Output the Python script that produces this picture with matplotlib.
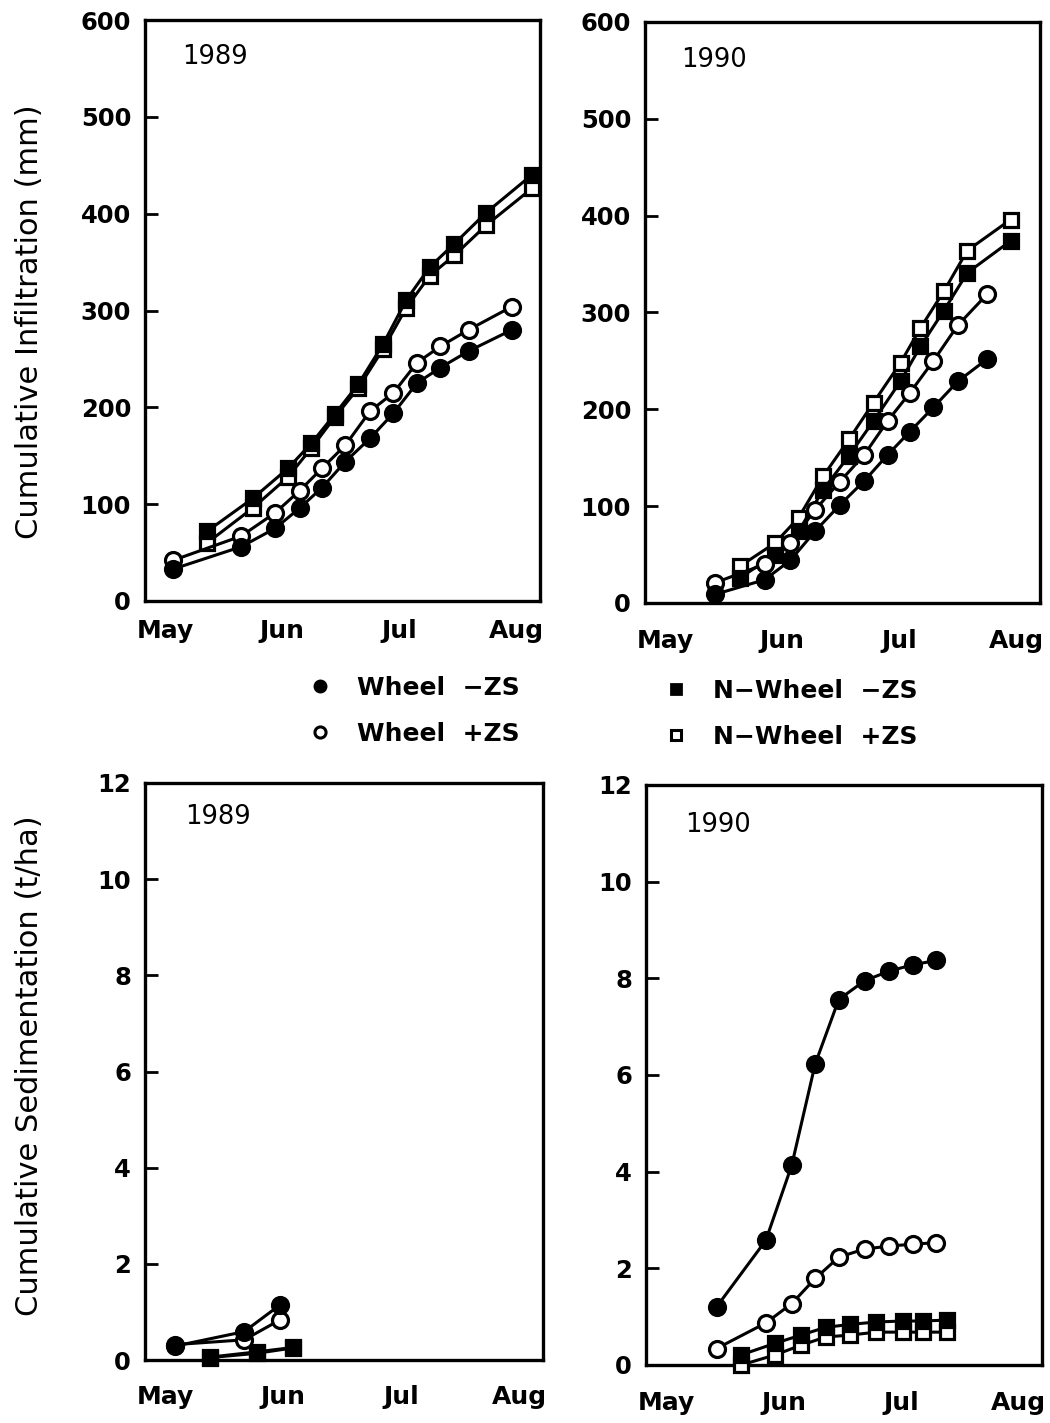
import matplotlib
matplotlib.use("Agg")
import matplotlib.pyplot as plt
from matplotlib.lines import Line2D

plt.rcParams['font.family'] = ['DejaVu Sans']

# ---------------- data ----------------
months = ["May", "Jun", "Jul", "Aug"]

# 1989 infiltration (mm); x in months after 1 May
wheel_x_89 = [0.07, 0.65, 0.94, 1.15, 1.34, 1.54, 1.75, 1.95, 2.15, 2.35, 2.59, 2.96]
inf89_wheel_noZS = [33, 56, 75, 96, 117, 144, 168, 194, 225, 241, 258, 280]
inf89_wheel_ZS = [42, 67, 91, 114, 137, 161, 196, 215, 246, 263, 280, 304]
nwheel_x_89 = [0.36, 0.75, 1.05, 1.25, 1.45, 1.65, 1.86, 2.06, 2.26, 2.47, 2.74, 3.13]
inf89_nw_noZS = [72, 106, 137, 163, 193, 224, 265, 311, 345, 369, 401, 440]
inf89_nw_ZS = [60, 96, 128, 158, 190, 220, 260, 303, 336, 357, 388, 426]

# 1990 infiltration (mm)
wheel_x_90 = [0.43, 0.85, 1.07, 1.28, 1.49, 1.70, 1.90, 2.09, 2.29, 2.50, 2.75]
inf90_wheel_noZS = [9, 24, 44, 74, 101, 126, 153, 177, 202, 229, 252]
inf90_wheel_ZS = [21, 40, 62, 96, 125, 153, 188, 217, 250, 287, 319]
nwheel_x_90 = [0.64, 0.94, 1.14, 1.35, 1.57, 1.78, 2.01, 2.18, 2.38, 2.58, 2.95]
inf90_nw_noZS = [26, 50, 74, 117, 152, 188, 229, 265, 302, 341, 374]
inf90_nw_ZS = [38, 62, 88, 131, 169, 207, 248, 284, 322, 364, 396]

# 1989 sedimentation (t/ha)
wheel_x_89s = [0.085, 0.67, 0.97]
sed89_wheel_noZS = [0.29, 0.59, 1.14]
sed89_wheel_ZS = [0.32, 0.42, 0.83]
nwheel_x_89s = [0.38, 0.78, 1.08]
sed89_nw_noZS = [0.06, 0.17, 0.26]
sed89_nw_ZS = [0.05, 0.14, 0.25]

# 1990 sedimentation (t/ha)
wheel_x_90s = [0.43, 0.85, 1.07, 1.27, 1.47, 1.69, 1.90, 2.10, 2.30]
sed90_wheel_noZS = [1.20, 2.58, 4.13, 6.23, 7.56, 7.95, 8.15, 8.28, 8.37]
sed90_wheel_ZS = [0.34, 0.87, 1.27, 1.79, 2.23, 2.40, 2.46, 2.50, 2.53]
nwheel_x_90s = [0.64, 0.93, 1.15, 1.36, 1.57, 1.79, 2.02, 2.19, 2.39]
sed90_nw_noZS = [0.21, 0.45, 0.62, 0.78, 0.84, 0.89, 0.91, 0.91, 0.93]
sed90_nw_ZS = [0.0, 0.21, 0.41, 0.58, 0.62, 0.68, 0.68, 0.68, 0.68]

labels = ["Wheel  \u2212ZS", "Wheel  +ZS", "N\u2212Wheel  \u2212ZS", "N\u2212Wheel  +ZS"]

# ---------------- figure ----------------
W, H = 1050, 1423
fig = plt.figure(figsize=(W / 100, H / 100), dpi=100)


def px_axes(l, t, r, b):
    return fig.add_axes([l / W, 1 - b / H, (r - l) / W, (b - t) / H])


ax_tl = px_axes(145, 20, 540, 601)
ax_tr = px_axes(645, 22, 1040, 603)
ax_bl = px_axes(145, 783, 543, 1360)
ax_br = px_axes(646, 785, 1042, 1365)

lw = 2.2
ms_c = 11.5
ms_s = 10
mew = 2.3


def draw(ax, wx, w_no, w_zs, nx, n_no, n_zs):
    kw = dict(color="black", lw=lw, clip_on=False, zorder=3)
    ax.plot(nx, n_zs, marker="s", ms=ms_s, mfc="white", mec="black", mew=mew, **kw)
    ax.plot(nx, n_no, marker="s", ms=ms_s, mfc="black", mec="black", mew=mew, **kw)
    ax.plot(wx, w_zs, marker="o", ms=ms_c, mfc="white", mec="black", mew=mew, **kw)
    ax.plot(wx, w_no, marker="o", ms=ms_c, mfc="black", mec="black", mew=mew, **kw)


draw(ax_tl, wheel_x_89, inf89_wheel_noZS, inf89_wheel_ZS, nwheel_x_89, inf89_nw_noZS, inf89_nw_ZS)
draw(ax_tr, wheel_x_90, inf90_wheel_noZS, inf90_wheel_ZS, nwheel_x_90, inf90_nw_noZS, inf90_nw_ZS)
draw(ax_bl, wheel_x_89s, sed89_wheel_noZS, sed89_wheel_ZS, nwheel_x_89s, sed89_nw_noZS, sed89_nw_ZS)
draw(ax_br, wheel_x_90s, sed90_wheel_noZS, sed90_wheel_ZS, nwheel_x_90s, sed90_nw_noZS, sed90_nw_ZS)

for ax, ylim, step, year, xpad, (tx, ty) in [
    (ax_tl, 600, 100, "1989", 13, (0.094, 0.936)),
    (ax_tr, 600, 100, "1990", 19, (0.091, 0.935)),
    (ax_bl, 12, 2, "1989", 18, (0.100, 0.941)),
    (ax_br, 12, 2, "1990", 19, (0.098, 0.931)),
]:
    ax.set_xlim(-0.17, 3.2)
    ax.set_ylim(0, ylim)
    ax.set_yticks(range(0, ylim + 1, step))
    ax.set_xticks(range(len(months)))
    ax.set_xticklabels(months, fontsize=18, fontweight="bold")
    for lab in ax.get_yticklabels():
        lab.set_fontsize(17.5)
        lab.set_fontweight("bold")
    ax.tick_params(axis="y", direction="in", length=9, width=2, pad=10)
    ax.tick_params(axis="x", length=0, pad=xpad)
    for s in ax.spines.values():
        s.set_linewidth(2.4)
    ax.text(tx, ty, year, transform=ax.transAxes, fontsize=18.5, ha="left", va="center")

fig.text(30 / W, 1 - 322 / H, "Cumulative Infiltration (mm)", rotation=90,
         fontsize=22, ha="center", va="center")
fig.text(30 / W, 1 - 1066 / H, "Cumulative Sedimentation (t/ha)", rotation=90,
         fontsize=22, ha="center", va="center")

# legends
h_w_no = Line2D([], [], ls="none", marker="o", ms=8, mfc="black", mec="black", mew=2)
h_w_zs = Line2D([], [], ls="none", marker="o", ms=8, mfc="white", mec="black", mew=2.2)
h_n_no = Line2D([], [], ls="none", marker="s", ms=7, mfc="black", mec="black", mew=2)
h_n_zs = Line2D([], [], ls="none", marker="s", ms=7, mfc="white", mec="black", mew=2.2)

leg_kw = dict(loc="upper left", frameon=False, borderpad=0, borderaxespad=0,
              handlelength=1.0, handletextpad=1.0, labelspacing=0.88,
              prop=dict(size=18, weight="bold"))
fig.legend([h_w_no, h_w_zs], labels[:2], bbox_to_anchor=(307 / W, 1 - 676 / H), **leg_kw)
fig.legend([h_n_no, h_n_zs], labels[2:], bbox_to_anchor=(663 / W, 1 - 679 / H), **leg_kw)

fig.savefig("out.png", dpi=100)
